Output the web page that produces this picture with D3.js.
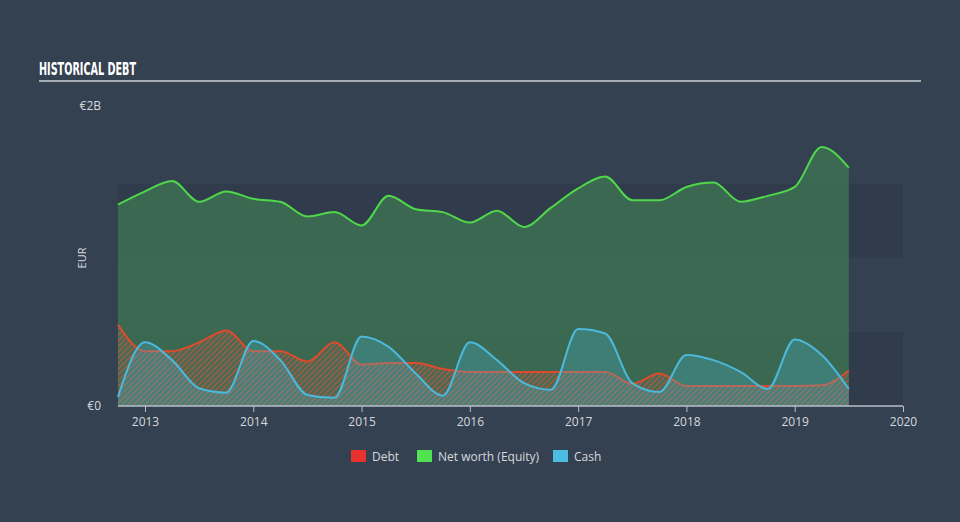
<!DOCTYPE html>
<html><head><meta charset="utf-8">
<script src="https://cdn.jsdelivr.net/npm/d3@7"></script>
<style>
html,body{margin:0;padding:0;background:#344151;}
svg{display:block;}
</style></head>
<body>
<svg id="c" width="960" height="522"></svg>
<script>
// Quarterly dates (fractional years)
const dates = [2012.75,2013.0,2013.25,2013.5,2013.75,2014.0,2014.25,2014.5,2014.75,2015.0,2015.25,2015.5,2015.75,2016.0,2016.25,2016.5,2016.75,2017.0,2017.25,2017.5,2017.75,2018.0,2018.25,2018.5,2018.75,2019.0,2019.25,2019.5];
// values in billions EUR
const equity = [1.36,1.45,1.52,1.38,1.45,1.40,1.38,1.28,1.31,1.22,1.42,1.33,1.31,1.24,1.32,1.21,1.34,1.47,1.55,1.39,1.39,1.48,1.51,1.38,1.42,1.48,1.75,1.61];
const debt   = [0.55,0.37,0.37,0.43,0.51,0.37,0.37,0.30,0.43,0.28,0.29,0.29,0.25,0.23,0.23,0.23,0.23,0.23,0.23,0.15,0.22,0.135,0.135,0.135,0.135,0.135,0.14,0.24];
const cash   = [0.06,0.43,0.31,0.12,0.09,0.44,0.31,0.075,0.055,0.47,0.40,0.22,0.07,0.43,0.31,0.155,0.11,0.52,0.49,0.155,0.095,0.345,0.31,0.23,0.115,0.45,0.345,0.115];
const xTicks = [2013,2014,2015,2016,2017,2018,2019,2020];
const yTickLabels = ["€0","€2B"];
const legendItems = ["Debt","Net worth (Equity)","Cash"];

const svg = d3.select("#c");
const x = d3.scaleLinear().domain([2013,2020]).range([145,903]);
const y = d3.scaleLinear().domain([0,2]).range([406,110]);

// title
svg.append("text").attr("x",39).attr("y",75).text("HISTORICAL DEBT")
  .attr("fill","#ffffff").attr("font-family","'DejaVu Sans Condensed','Liberation Sans Narrow',sans-serif")
  .attr("font-weight","bold").attr("font-size",17)
  .attr("textLength",97).attr("lengthAdjust","spacingAndGlyphs");
svg.append("rect").attr("x",39).attr("y",80).attr("width",882).attr("height",2).attr("fill","#a7adb5");

// bands
const x0 = x(dates[0]);
[[0,0.5],[1,1.5]].forEach(b=>{
  svg.append("rect").attr("x",x0).attr("width",903-x0)
    .attr("y",y(b[1])).attr("height",y(b[0])-y(b[1])).attr("fill","#2f3b4b").attr("fill-opacity",0.8);
});

// pattern
const defs = svg.append("defs");
const pat = defs.append("pattern").attr("id","hatch").attr("patternUnits","userSpaceOnUse")
  .attr("width",4).attr("height",4).attr("patternTransform","rotate(45)");
pat.append("rect").attr("width",4).attr("height",4).attr("fill","#6a6a5a").attr("fill-opacity",0.35);
pat.append("line").attr("x1",0).attr("y1",0).attr("x2",0).attr("y2",4)
  .attr("stroke","#e0552f").attr("stroke-width",2).attr("stroke-opacity",0.75);

const curve = d3.curveMonotoneX;
const area = vals => d3.area().x((d,i)=>x(dates[i])).y0(y(0)).y1(d=>y(d)).curve(curve)(vals);
const line = vals => d3.line().x((d,i)=>x(dates[i])).y(d=>y(d)).curve(curve)(vals);

svg.append("path").attr("d",area(equity)).attr("fill","#3e7a52").attr("fill-opacity",0.7);
svg.append("path").attr("d",line(equity)).attr("fill","none").attr("stroke","#4fd84a").attr("stroke-width",2);
svg.append("path").attr("d",area(debt)).attr("fill","url(#hatch)");
svg.append("path").attr("d",line(debt)).attr("fill","none").attr("stroke","#dd4b2c").attr("stroke-width",2);
svg.append("path").attr("d",area(cash)).attr("fill","#4bb8d8").attr("fill-opacity",0.28);
svg.append("path").attr("d",line(cash)).attr("fill","none").attr("stroke","#4cb9dc").attr("stroke-width",2);

// x axis
const xa = svg.append("g").attr("transform","translate(0,406)")
  .call(d3.axisBottom(x).tickValues(xTicks).tickFormat(d3.format("d")).tickSize(6).tickSizeOuter(0));
xa.select(".domain").attr("stroke","#b9c0c8").attr("stroke-width",1.5);
xa.selectAll(".tick line").attr("stroke","#b9c0c8");
xa.selectAll(".tick text").attr("fill","#d5d9de").attr("font-size",12)
  .attr("font-family","'Open Sans','DejaVu Sans',sans-serif").attr("dy","0.9em");
xa.select(".domain").attr("d","M"+x0+",0H903");

// y labels
svg.append("text").attr("x",101).attr("y",y(0)+4).attr("text-anchor","end").text(yTickLabels[0])
  .attr("fill","#d5d9de").attr("font-size",12).attr("font-family","'Open Sans','DejaVu Sans',sans-serif");
svg.append("text").attr("x",101).attr("y",y(2)+0).attr("text-anchor","end").text(yTickLabels[1])
  .attr("fill","#d5d9de").attr("font-size",12).attr("font-family","'Open Sans','DejaVu Sans',sans-serif");
svg.append("text").attr("transform","translate(86,258) rotate(-90)").attr("text-anchor","middle").text("EUR")
  .attr("fill","#d5d9de").attr("font-size",11).attr("font-family","'Open Sans','DejaVu Sans',sans-serif");

// legend
const legColors = ["#e8312f","#4fe34f","#4bbde0"];
const legX = [351,417,553];
legendItems.forEach((t,i)=>{
  svg.append("rect").attr("x",legX[i]).attr("y",450).attr("width",15).attr("height",12).attr("fill",legColors[i]);
  svg.append("text").attr("x",legX[i]+21).attr("y",460.5).text(t).attr("fill","#d5d9de")
    .attr("font-size",12).attr("font-family","'Open Sans','DejaVu Sans',sans-serif");
});
</script>
</body></html>
